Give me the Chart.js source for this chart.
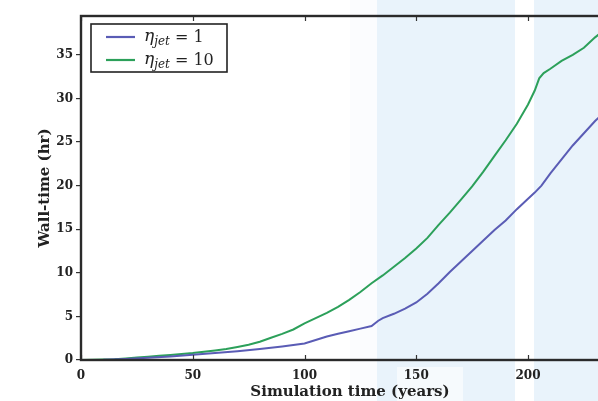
<!DOCTYPE html>
<html>
<head>
<meta charset="utf-8">
<script src="https://cdn.jsdelivr.net/npm/chart.js@4"></script>
<style>
html,body{margin:0;padding:0;background:#fff;overflow:hidden;}
#wrap{width:640px;height:401px;position:relative;}
</style>
</head>
<body>
<div id="wrap"><canvas id="c" width="640" height="401"></canvas></div>
<script>
// Simulation time (years) and wall-time (hr)
const timeJet1 = [0,10,20,30,40,50,60,70,80,90,100,105,110,115,120,125,130,133,135,140,145,150,155,160,165,170,175,180,185,190,195,200,203,206,210,215,220,225,230,235,240];
const wallJet1 = [0,0.03,0.12,0.25,0.4,0.6,0.8,1.0,1.25,1.55,1.9,2.3,2.7,3.0,3.3,3.6,3.9,4.5,4.8,5.3,5.9,6.6,7.6,8.8,10.1,11.3,12.5,13.7,14.9,16.0,17.3,18.5,19.2,20.0,21.4,23.0,24.6,26.0,27.4,28.6,29.8];
const timeJet10 = [0,5,10,15,20,25,30,35,40,45,50,55,60,65,70,75,80,85,90,95,100,105,110,115,120,125,130,135,140,145,150,155,160,165,170,175,180,185,190,195,200,203,205,207,210,215,220,225,230,235,240];
const wallJet10 = [0,0.02,0.05,0.1,0.18,0.28,0.38,0.48,0.58,0.68,0.8,0.95,1.1,1.25,1.5,1.75,2.1,2.55,3.0,3.5,4.2,4.8,5.4,6.1,6.9,7.8,8.8,9.7,10.7,11.7,12.8,14.0,15.5,16.9,18.4,19.9,21.6,23.4,25.2,27.1,29.3,30.9,32.3,32.9,33.4,34.3,35.0,35.8,37.0,38.0,39.0];
const seriesLabels = [["η","jet"," = 1"],["η","jet"," = 10"]];
const xTicks = [0,50,100,150,200];
const yTicks = [0,5,10,15,20,25,30,35];

const toPts = (xs, ys) => xs.map((x,i)=>({x:x,y:ys[i]}));
const SERIF = "'DejaVu Serif','Liberation Serif',serif";

const bgBands = {
  id:'bgBands',
  beforeDraw(chart){
    const ctx = chart.ctx;
    ctx.save();
    ctx.fillStyle = '#fbfcfe';
    ctx.fillRect(350,0,27,401);
    ctx.fillStyle = '#e9f3fb';
    ctx.fillRect(377,0,138,401);
    ctx.fillRect(534,0,110,401);
    ctx.fillStyle = '#f6fafd';
    ctx.fillRect(397,367,66,34);
    ctx.restore();
  }
};

const frame = {
  id:'frame',
  afterDatasetsDraw(chart){
    const {ctx, chartArea:a, scales} = chart;
    ctx.save();
    ctx.strokeStyle = '#333';
    ctx.lineWidth = 1.2;
    xTicks.forEach(v=>{
      const px = Math.round(scales.x.getPixelForValue(v))+0.5;
      ctx.beginPath();
      ctx.moveTo(px,a.bottom); ctx.lineTo(px,a.bottom-5);
      ctx.moveTo(px,a.top); ctx.lineTo(px,a.top+5);
      ctx.stroke();
    });
    ctx.strokeStyle = '#2a2a2a';
    ctx.lineWidth = 2.4;
    ctx.strokeRect(a.left,a.top,a.right-a.left,a.bottom-a.top);
    ctx.restore();
  }
};

const mathLegend = {
  id:'mathLegend',
  afterDraw(chart){
    const ctx = chart.ctx;
    const a = chart.chartArea;
    const x0 = a.left+10, y0 = a.top+8, w = 136, h = 48;
    ctx.save();
    ctx.fillStyle = '#fff';
    ctx.fillRect(x0,y0,w,h);
    ctx.strokeStyle = '#222';
    ctx.lineWidth = 1.6;
    ctx.strokeRect(x0,y0,w,h);
    chart.data.datasets.forEach((ds,i)=>{
      const cy = y0 + 13 + i*23;
      ctx.strokeStyle = ds.borderColor;
      ctx.lineWidth = 2.2;
      ctx.beginPath();
      ctx.moveTo(x0+15,cy); ctx.lineTo(x0+44,cy);
      ctx.stroke();
      const parts = seriesLabels[i];
      ctx.fillStyle = '#222';
      ctx.textBaseline = 'alphabetic';
      let tx = x0+53;
      ctx.font = "italic 17px "+SERIF;
      ctx.fillText(parts[0],tx,cy+4);
      tx += ctx.measureText(parts[0]).width;
      ctx.font = "italic 12px "+SERIF;
      ctx.fillText(parts[1],tx,cy+8);
      tx += ctx.measureText(parts[1]).width;
      ctx.font = "16px "+SERIF;
      ctx.fillText(parts[2],tx,cy+5);
    });
    ctx.restore();
  }
};

new Chart(document.getElementById('c'),{
  type:'line',
  data:{datasets:[
    {label:'η_jet = 1', data:toPts(timeJet1,wallJet1), borderColor:'#5a5cb5', borderWidth:2, pointRadius:0, tension:0, fill:false},
    {label:'η_jet = 10', data:toPts(timeJet10,wallJet10), borderColor:'#2ca05a', borderWidth:2, pointRadius:0, tension:0, fill:false}
  ]},
  options:{
    responsive:false,
    animation:false,
    layout:{padding:{left:36,top:16,right:21,bottom:0}},
    plugins:{legend:{display:false},tooltip:{enabled:false}},
    scales:{
      x:{
        type:'linear', min:0, max:240.7,
        afterBuildTicks(s){ s.ticks = xTicks.map(v=>({value:v})); },
        afterFit(s){ s.height = 41; },
        grid:{display:true, drawOnChartArea:false, drawTicks:false},
        border:{display:false},
        ticks:{color:'#222', font:{family:SERIF, size:12, weight:'bold'}, padding:9},
        title:{display:true, text:'Simulation time (years)', color:'#222', font:{family:SERIF, size:15, weight:'bold'}, padding:{top:0,bottom:0}}
      },
      y:{
        min:0, max:39.45,
        afterBuildTicks(s){ s.ticks = yTicks.map(v=>({value:v})); },
        afterFit(s){ s.width = 45; },
        grid:{display:true, drawOnChartArea:false, drawTicks:true, tickLength:5, color:'#333', lineWidth:1.2},
        border:{display:false},
        ticks:{color:'#222', font:{family:SERIF, size:12, weight:'bold'}, padding:3},
        title:{display:true, text:'Wall-time (hr)', color:'#222', font:{family:SERIF, size:15, weight:'bold'}, padding:{top:0,bottom:0}}
      }
    }
  },
  plugins:[bgBands, frame, mathLegend]
});
</script>
</body>
</html>
